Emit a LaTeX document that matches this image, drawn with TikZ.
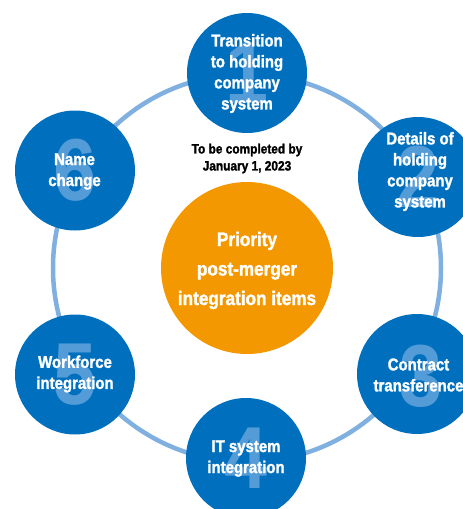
\documentclass[tikz,border=0pt]{standalone}
\usepackage{fontspec}
\setmainfont{Liberation Sans}
\newfontfamily\condfont[FakeStretch=0.88,FakeBold=1.6,UprightFont={* Bold},BoldFont={* Bold}]{Liberation Sans}
\newfontfamily\digitfont[FakeStretch=0.88,UprightFont={* Bold}]{Liberation Sans}
\definecolor{circblue}{RGB}{0,112,190}
\definecolor{ringblue}{RGB}{128,176,224}
\definecolor{digitblue}{RGB}{84,156,216}
\definecolor{orangec}{RGB}{243,152,0}
\begin{document}
\begin{tikzpicture}[x=1pt,y=-1pt,
  bubble/.style={circle,fill=circblue,minimum size=120pt,inner sep=0pt},
  digitnum/.style={text=digitblue,inner sep=0pt,font=\digitfont\fontsize{88}{88}\selectfont},
  btext/.style={text=white,align=center,inner sep=0pt,font=\condfont\fontsize{17}{21}\selectfont},
  hub/.style={circle,fill=orangec,minimum size=172pt,inner sep=0pt},
  hubtext/.style={text=white,align=center,inner sep=0pt,font=\condfont\fontsize{19.5}{29.5}\selectfont},
  notetext/.style={text=black,align=center,inner sep=0pt,font=\condfont\fontsize{13.5}{17}\selectfont},
  ringline/.style={draw=ringblue,line width=4.5pt}]
\useasboundingbox (0,0) rectangle (463,509);
\clip (0,0) rectangle (463,509);
\fill[white] (0,0) rectangle (463,509);
\coordinate (ringc) at (247,268);
\draw[ringline] (ringc) circle (194);
% hub
\node[hub] (hub) at (247,268) {};
\node[hubtext] (hubt) at (247,270.5) {Priority\\post-merger\\integration items};
\node[notetext] (note) at (247,158.5) {To be completed by\\January 1, 2023};
% satellites
\node[bubble] (n1) at (247,73) {};
\node[digitnum] (d1) at (n1) {1};
\node[btext] (t1) at (247,73.5) {Transition\\to holding\\company\\system};

\node[bubble] (n2) at (418,177) {};
\node[digitnum] (d2) at (n2) {2};
\node[btext] (t2) at (420,171.5) {Details of\\holding\\company\\system};

\node[bubble] (n3) at (417,374) {};
\node[digitnum] (d3) at (421,376) {3};
\node[btext] (t3) at (418.5,375) {Contract\\transference};

\node[bubble] (n4) at (246,458) {};
\node[digitnum] (d4) at (n4) {4};
\node[btext] (t4) at (246,458.5) {IT system\\integration};

\node[bubble] (n5) at (75,374.5) {};
\node[digitnum] (d5) at (n5) {5};
\node[btext] (t5) at (75,374) {Workforce\\integration};

\node[bubble] (n6) at (75,170.5) {};
\node[digitnum] (d6) at (n6) {6};
\node[btext] (t6) at (74.5,171.5) {Name\\change};
\end{tikzpicture}
\end{document}
